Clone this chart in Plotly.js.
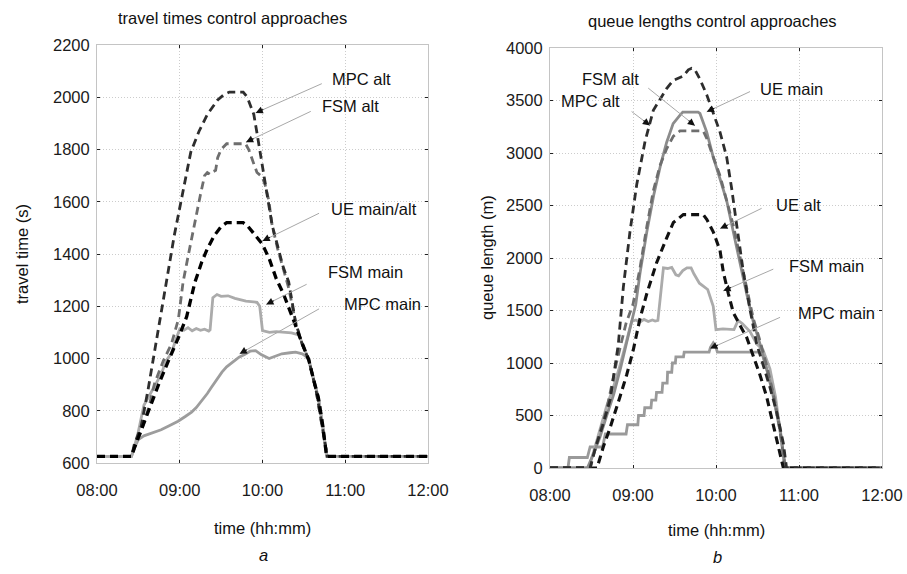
<!DOCTYPE html>
<html>
<head>
<meta charset="utf-8">
<script src="https://cdn.plot.ly/plotly-3.0.1.min.js"></script>
<style>html,body{margin:0;padding:0;background:#fff;}#chart{width:907px;height:574px;}</style>
</head>
<body>
<div id="chart"></div>
<script>
// ---------- tick labels ----------
const timeTickVals = [0, 60, 120, 180, 240];
const timeTickText = ['08:00', '09:00', '10:00', '11:00', '12:00'];

// ---------- panel a: travel times (s), time in minutes after 08:00 ----------
const ttMpcAltT = [0, 25, 27, 32, 37, 41, 46, 51.5, 56, 62, 68, 74, 80, 87.5, 92, 96, 106, 109, 113.7, 116, 119.8, 123.4, 127, 131, 135, 139, 144, 148.8, 153.6, 159, 163.5, 166, 167, 240];
const ttMpcAltV = [625, 625, 670, 740, 880, 1000, 1150, 1330, 1470, 1627, 1790, 1870, 1934, 1990, 2010, 2020, 2020, 2000, 1934, 1863, 1745, 1627, 1510, 1430, 1350, 1293, 1138, 1054, 994, 874, 730, 647, 625, 625];

const ttFsmAltT = [0, 25, 27, 32, 38, 41.6, 48, 54, 59, 62.4, 66, 70, 75, 78, 80, 82, 84, 86, 87.5, 90, 94, 107.7, 110, 113.7, 116, 119.8, 122, 124.6, 127, 131, 135, 139, 144, 148.8, 153.6, 159, 163.5, 166, 167, 240];
const ttFsmAltV = [625, 625, 660, 720, 821, 902, 990, 1056, 1150, 1292, 1390, 1500, 1627, 1700, 1712, 1705, 1715, 1720, 1769, 1800, 1822, 1822, 1800, 1745, 1712, 1695, 1663, 1604, 1509, 1420, 1340, 1270, 1138, 1054, 994, 874, 730, 647, 625, 625];

const ttUeT = [0, 25, 27, 33, 39, 45, 51.4, 56, 60, 65, 71, 76, 80, 85, 90, 94, 106, 109, 116, 120, 125, 130, 135, 139, 143, 146.4, 150, 153.6, 157, 160.5, 163.5, 165.5, 166.5, 240];
const ttUeV = [625, 625, 656, 740, 821, 905, 986, 1040, 1092, 1160, 1292, 1370, 1420, 1470, 1505, 1520, 1520, 1509, 1462, 1437, 1380, 1305, 1250, 1198, 1140, 1090, 1040, 994, 920, 850, 750, 659, 625, 625];

const ttFsmMainT = [0, 25, 27, 30, 34, 40, 46.5, 50, 54, 57, 59, 60, 63, 66, 69, 72, 75, 78, 81, 82, 84, 87, 90, 95, 100, 105, 108, 116, 118, 120, 125, 130, 135, 141, 146.4, 150, 153.6, 157, 160.5, 163.5, 165.5, 166.5];
const ttFsmMainV = [625, 625, 660, 720, 821, 880, 939, 990, 1021, 1070, 1104, 1113, 1108, 1118, 1106, 1115, 1108, 1112, 1105, 1110, 1233, 1245, 1238, 1240, 1230, 1225, 1220, 1215, 1200, 1107, 1100, 1103, 1100, 1098, 1090, 1040, 994, 920, 850, 750, 659, 625];

const ttMpcMainT = [0, 25, 27, 30, 34, 40, 46.5, 52, 58.8, 64, 68.6, 72, 76, 80, 83, 87, 90.6, 94, 98, 103, 107, 111, 115, 119, 124.8, 130, 134, 140, 144, 148.8, 151, 153.6, 157, 160.5, 163.5, 165.5, 166.5, 240];
const ttMpcMainV = [625, 625, 656, 690, 704, 715, 727, 742, 760, 778, 795, 812, 838, 866, 890, 920, 948, 968, 985, 1005, 1015, 1028, 1030, 1015, 1000, 1010, 1018, 1022, 1024, 1018, 1010, 994, 920, 850, 750, 659, 625, 625];

// ---------- panel b: queue lengths (m) ----------
const qlMpcAltT = [0, 29, 33, 38, 43.5, 49.4, 53, 57.8, 62.7, 68.7, 72.3, 74.7, 79.5, 84.3, 89, 96.4, 100, 102.4, 104.8, 108.4, 113.3, 118, 122.9, 127.7, 131.3, 135, 139.8, 144.6, 149.4, 154.2, 159, 163.9, 168.7, 171, 240];
const qlMpcAltV = [0, 0, 200, 400, 650, 1180, 1720, 2250, 2700, 3110, 3288, 3407, 3510, 3614, 3690, 3733, 3792, 3807, 3792, 3703, 3555, 3377, 3199, 2962, 2665, 2310, 1865, 1509, 1183, 975, 768, 530, 234, 0, 0];

const qlUeMainT = [0, 27, 31, 36, 41, 46, 51, 55, 59, 62, 65, 70, 75, 80, 84.3, 89, 94, 96, 107, 108.4, 113.3, 118, 122.9, 127.7, 132.5, 137.3, 142.2, 147, 151.8, 156.6, 161.4, 166.3, 170, 240];
const qlUeMainV = [0, 0, 120, 290, 500, 700, 950, 1180, 1380, 1560, 1850, 2250, 2600, 2890, 3100, 3280, 3360, 3390, 3390, 3377, 3199, 2962, 2755, 2547, 2250, 1953, 1657, 1390, 1183, 945, 709, 382, 0, 0];

const qlFsmAltT = [0, 29, 33.7, 41, 48, 55, 60, 65, 70, 74.7, 79.5, 84.3, 89.2, 94, 110.8, 113.3, 118, 122.9, 127.7, 132.5, 137.3, 142.2, 147, 151.8, 156.6, 161.4, 166.3, 170, 240];
const qlFsmAltV = [0, 0, 233, 560, 1000, 1380, 1560, 1900, 2300, 2640, 2880, 3040, 3160, 3210, 3210, 3140, 2962, 2784, 2547, 2310, 2013, 1716, 1420, 1213, 975, 709, 353, 0, 0];

const qlUeAltT = [0, 34, 38.6, 43.4, 50.6, 55.4, 60.2, 65, 69.9, 77, 84.3, 89.2, 96.4, 110.8, 113.3, 118, 122.9, 125.3, 129, 132.5, 137.3, 142.2, 147, 151.8, 156.6, 161.4, 166.3, 168.7, 240];
const qlUeAltV = [0, 0, 204, 382, 679, 886, 1124, 1420, 1657, 1953, 2190, 2339, 2413, 2413, 2369, 2250, 2072, 1865, 1657, 1480, 1361, 1243, 1064, 886, 679, 412, 145, 0, 0];

const qlFsmMainT = [0, 28, 31.3, 36, 41, 45.8, 50, 55.4, 59, 62, 65, 68, 71, 74, 76, 78, 80, 82, 85, 88, 91, 93, 96, 99, 102, 104, 108, 114, 118, 120, 125, 133, 136, 139, 144.6, 149.4, 154, 159, 163, 166.3, 170];
const qlFsmMainV = [0, 0, 145, 353, 590, 768, 950, 1213, 1395, 1410, 1390, 1415, 1395, 1410, 1400, 1406, 1650, 1906, 1900, 1910, 1840, 1830, 1880, 1906, 1906, 1850, 1760, 1700, 1540, 1318, 1325, 1318, 1406, 1376, 1300, 1183, 1124, 945, 679, 353, 0];

const qlMpcMainT = [0, 13, 14, 27, 29, 38, 40, 55, 56, 63.5, 64, 68, 68.5, 73, 73.5, 76.5, 77, 81, 81.5, 84.7, 85, 88, 88.5, 90.6, 91, 96.5, 97, 115, 116, 118, 120, 121, 153, 156.6, 161.4, 166.3, 170, 240];
const qlMpcMainV = [0, 0, 100, 100, 200, 200, 324, 324, 412, 412, 500, 500, 574, 574, 647, 647, 721, 721, 809, 809, 912, 912, 1000, 1000, 1059, 1059, 1103, 1103, 1150, 1191, 1150, 1103, 1103, 945, 679, 353, 0, 0];

// ---------- styling ----------
const FONT = 'Liberation Sans, Arial, sans-serif';
const FS = 16.5;
const DASH = '8px,5px';
function tr(x, y, xa, ya, color, dash, width) {
  return {x: x, y: y, xaxis: xa, yaxis: ya, type: 'scatter', mode: 'lines',
    line: {color: color, width: width, dash: dash}, hoverinfo: 'skip', showlegend: false};
}
const traces = [
  tr(ttMpcMainT, ttMpcMainV, 'x', 'y', '#9d9d9d', 'solid', 2.8),
  tr(ttFsmMainT, ttFsmMainV, 'x', 'y', '#ababab', 'solid', 2.8),
  tr(ttFsmAltT, ttFsmAltV, 'x', 'y', '#6e6e6e', DASH, 2.8),
  tr(ttMpcAltT, ttMpcAltV, 'x', 'y', '#2e2e2e', DASH, 2.8),
  tr(ttUeT, ttUeV, 'x', 'y', '#000000', DASH, 3.3),

  tr(qlMpcMainT, qlMpcMainV, 'x2', 'y2', '#9a9a9a', 'solid', 2.8),
  tr(qlFsmMainT, qlFsmMainV, 'x2', 'y2', '#ababab', 'solid', 2.8),
  tr(qlUeMainT, qlUeMainV, 'x2', 'y2', '#8c8c8c', 'solid', 2.8),
  tr(qlFsmAltT, qlFsmAltV, 'x2', 'y2', '#6e6e6e', DASH, 2.8),
  tr(qlUeAltT, qlUeAltV, 'x2', 'y2', '#111111', DASH, 3.1),
  tr(qlMpcAltT, qlMpcAltV, 'x2', 'y2', '#2e2e2e', DASH, 2.8)
];

function axisX(domain, anchor) {
  return {domain: domain, anchor: anchor, range: [0, 240], tickvals: timeTickVals, ticktext: timeTickText,
    showgrid: true, gridcolor: '#cccccc', griddash: '1px,2px', gridwidth: 1,
    showline: true, linecolor: '#c4c4c4', linewidth: 1, mirror: 'ticks',
    ticks: 'inside', ticklen: 3, tickcolor: '#222', zeroline: false, ticklabelstandoff: 12,
    tickfont: {family: FONT, size: FS, color: '#1a1a1a'}};
}
function axisY(domain, anchor, range, dtick) {
  return {domain: domain, anchor: anchor, range: range, dtick: dtick, tick0: 0,
    showgrid: true, gridcolor: '#cccccc', griddash: '1px,2px', gridwidth: 1,
    showline: true, linecolor: '#c4c4c4', linewidth: 1, mirror: 'ticks',
    ticks: 'inside', ticklen: 3, tickcolor: '#222', zeroline: false, ticklabelstandoff: 3,
    tickfont: {family: FONT, size: FS, color: '#1a1a1a'}};
}

const W = 907, H = 574;
const pxL = [97, 428], pyL = [45, 463];
const pxR = [550, 882], pyR = [48, 468];

// label annotations: [text, textX, textY, tailX, tailY, headX, headY]
const labelsA = [
  ['MPC alt', 192, 2070, 163, 2052, 115, 1940],
  ['FSM alt', 184, 1967, 155, 1946, 108, 1828],
  ['UE main/alt', 201, 1574, 161, 1556, 120, 1450],
  ['FSM main', 195, 1332, 152, 1284, 122.7, 1207],
  ['MPC main', 206.7, 1207, 161, 1190, 103.4, 1018]
];
const labelsB = [
  ['FSM alt', 43.4, 3703, 71, 3618, 104.8, 3260],
  ['MPC alt', 29, 3496, 59, 3395, 72.3, 3262],
  ['UE main', 174.7, 3614, 144.6, 3585, 113.3, 3392],
  ['UE alt', 179.5, 2503, 153, 2473, 123, 2280],
  ['FSM main', 200, 1924, 161.4, 1894, 125.3, 1687],
  ['MPC main', 207, 1479, 166.3, 1435, 115.7, 1138]
];

const annotations = [];
const shapes = [];
function addLabels(list, xr, yr, pxRange, pyRange, yRange) {
  const sx = (pxRange[1] - pxRange[0]) / 240;
  const sy = (pyRange[1] - pyRange[0]) / (yRange[1] - yRange[0]);
  list.forEach(function (L) {
    annotations.push({x: L[1], y: L[2], xref: xr, yref: yr, text: L[0], showarrow: false,
      font: {family: FONT, size: FS, color: '#111'}});
    shapes.push({type: 'line', xref: xr, yref: yr, x0: L[3], y0: L[4], x1: L[5], y1: L[6],
      line: {color: '#a8a8a8', width: 1}});
    const dxp = (L[3] - L[5]) * sx, dyp = (L[4] - L[6]) * sy;
    const len = Math.sqrt(dxp * dxp + dyp * dyp);
    const k = 10 / len;
    annotations.push({x: L[5], y: L[6], xref: xr, yref: yr, axref: xr, ayref: yr,
      ax: L[5] + (L[3] - L[5]) * k, ay: L[6] + (L[4] - L[6]) * k, text: '', showarrow: true,
      arrowhead: 2, arrowsize: 1.2, arrowwidth: 1.2, arrowcolor: '#111', standoff: 0});
  });
}
addLabels(labelsA, 'x', 'y', pxL, pyL, [600, 2200]);
addLabels(labelsB, 'x2', 'y2', pxR, pyR, [0, 4000]);

function paperText(text, px, py, size, extra) {
  const a = {x: px / W, y: 1 - py / H, xref: 'paper', yref: 'paper', text: text, showarrow: false,
    xanchor: 'center', yanchor: 'middle', font: {family: FONT, size: size, color: '#111'}};
  return Object.assign(a, extra || {});
}
annotations.push(paperText('travel times control approaches', 232, 18, FS));
annotations.push(paperText('queue lengths control approaches', 712, 21, FS));
annotations.push(paperText('time (hh:mm)', 262, 528, FS));
annotations.push(paperText('time (hh:mm)', 716, 530, FS));
annotations.push(paperText('<i>a</i>', 263, 555, FS));
annotations.push(paperText('<i>b</i>', 717, 557, FS));
annotations.push(paperText('travel time (s)', 22, 254, FS, {textangle: -90}));
annotations.push(paperText('queue length (m)', 487, 258, FS, {textangle: -90}));

const layout = {
  width: W, height: H, margin: {l: 0, r: 0, t: 0, b: 0},
  paper_bgcolor: '#fff', plot_bgcolor: '#fff', showlegend: false,
  xaxis: axisX([pxL[0] / W, pxL[1] / W], 'y'),
  yaxis: axisY([1 - pyL[1] / H, 1 - pyL[0] / H], 'x', [600, 2200], 200),
  xaxis2: axisX([pxR[0] / W, pxR[1] / W], 'y2'),
  yaxis2: axisY([1 - pyR[1] / H, 1 - pyR[0] / H], 'x2', [0, 4000], 500),
  annotations: annotations, shapes: shapes
};
Plotly.newPlot('chart', traces, layout, {staticPlot: true, displayModeBar: false});
</script>
</body>
</html>
